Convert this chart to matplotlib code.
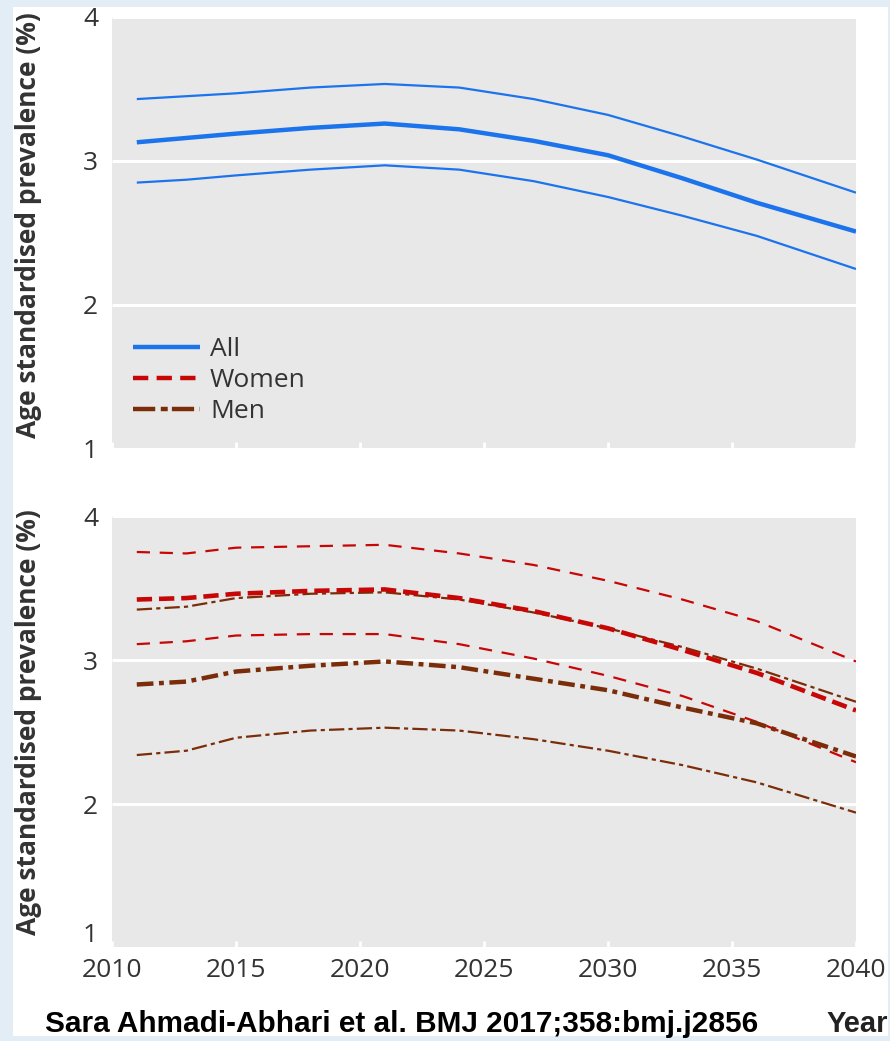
import numpy as np
import matplotlib.pyplot as plt
from matplotlib.patches import Rectangle

plt.rcParams.update({
    'font.family': 'Open Sans',
    'lines.scale_dashes': False,
    'lines.solid_capstyle': 'butt',
    'lines.dash_capstyle': 'butt',
})

# data
years = [2011, 2013, 2015, 2018, 2021, 2024, 2027, 2030, 2033, 2036, 2040]

all_mid = [3.13, 3.16, 3.19, 3.23, 3.26, 3.22, 3.14, 3.04, 2.88, 2.71, 2.51]
all_hi = [3.43, 3.45, 3.47, 3.51, 3.535, 3.51, 3.43, 3.32, 3.17, 3.01, 2.78]
all_lo = [2.85, 2.87, 2.90, 2.94, 2.97, 2.94, 2.86, 2.75, 2.62, 2.48, 2.25]

women_mid = [3.42, 3.43, 3.46, 3.48, 3.49, 3.43, 3.34, 3.22, 3.07, 2.91, 2.65]
women_hi = [3.75, 3.74, 3.78, 3.79, 3.80, 3.74, 3.66, 3.55, 3.42, 3.27, 2.99]
women_lo = [3.11, 3.13, 3.17, 3.18, 3.18, 3.11, 3.01, 2.89, 2.75, 2.57, 2.29]

men_mid = [2.83, 2.85, 2.92, 2.96, 2.99, 2.95, 2.87, 2.79, 2.67, 2.56, 2.33]
men_hi = [3.35, 3.37, 3.43, 3.46, 3.47, 3.42, 3.33, 3.22, 3.09, 2.94, 2.71]
men_lo = [2.34, 2.37, 2.46, 2.51, 2.53, 2.51, 2.45, 2.37, 2.27, 2.15, 1.94]

xticks = [2010, 2015, 2020, 2025, 2030, 2035, 2040]
yticks = [1, 2, 3, 4]

c_all = '#1c74ec'
c_women = '#c70606'
c_men = '#7a2d08'
panel = '#e8e8e8'
txt = '#333333'

W, H = 890, 1041
fig = plt.figure(figsize=(W / 100, H / 100), dpi=100)
fig.patch.set_facecolor('#e3edf6')
fig.patches.append(Rectangle((13 / W, 1 - 1036 / H), 875 / W, 1029 / H,
                             transform=fig.transFigure, facecolor='white',
                             edgecolor='none', zorder=-5))

ax1 = fig.add_axes([112 / W, 1 - 449 / H, 744 / W, 432 / H])
ax2 = fig.add_axes([112 / W, 1 - 948 / H, 744 / W, 432 / H])

for ax in (ax1, ax2):
    ax.set_facecolor(panel)
    ax.set_xlim(2010, 2040)
    ax.set_ylim(1, 4)
    for s in ax.spines.values():
        s.set_visible(False)
    ax.set_yticks(yticks)
    ax.set_xticks(xticks)
    ax.grid(axis='y', color='white', linewidth=2.2)
    ax.set_axisbelow(True)
    ax.tick_params(axis='y', length=0, labelsize=19, labelcolor=txt, pad=10)
    ax.tick_params(axis='x', direction='in', length=5, width=2, color='white',
                   labelsize=19, labelcolor=txt, pad=7)

ax1.tick_params(axis='x', labelbottom=False)
# lift the lowest y label of the bottom panel clear of the year labels
ax2.get_yticklabels()[0].set_verticalalignment('bottom')

# top panel: all
ax1.plot(years, all_hi, color=c_all, lw=1.6)
ax1.plot(years, all_lo, color=c_all, lw=1.6)
ax1.plot(years, all_mid, color=c_all, lw=3.2, label='All')
ax1.plot([], [], color=c_women, lw=3.2, dashes=(11, 6), label='Women')
ax1.plot([], [], color=c_men, lw=3.2, dashes=(16, 4, 5, 3), label='Men')
leg = ax1.legend(loc='lower left', bbox_to_anchor=(0.014, 0.033), frameon=False,
                 fontsize=19, handlelength=2.54, handletextpad=0.38,
                 labelspacing=0.23, borderaxespad=0)
for t in leg.get_texts():
    t.set_color(txt)

# bottom panel: women and men
ax2.plot(years, women_hi, color=c_women, lw=1.6, dashes=(9.5, 7))
ax2.plot(years, women_lo, color=c_women, lw=1.6, dashes=(9.5, 7))
ax2.plot(years, men_hi, color=c_men, lw=1.6, dashes=(11, 3, 3, 3))
ax2.plot(years, men_lo, color=c_men, lw=1.6, dashes=(11, 3, 3, 3))
ax2.plot(years, men_mid, color=c_men, lw=3.2, dashes=(12, 4, 3.5, 4))
ax2.plot(years, women_mid, color=c_women, lw=3.3, dashes=(11, 5))

ylab = 'Age standardised prevalence (%)'
fig.text(29 / W, 1 - 225 / H, ylab, rotation=90, ha='center', va='center',
         fontsize=19, fontweight='bold', color=txt)
fig.text(29 / W, 1 - 722 / H, ylab, rotation=90, ha='center', va='center',
         fontsize=19, fontweight='bold', color=txt)

fig.text(45 / W, 1 - 1024 / H, 'Sara Ahmadi-Abhari et al. BMJ 2017;358:bmj.j2856',
         ha='left', va='center', fontsize=21.4, fontweight='bold',
         family='Liberation Sans', color='black')
fig.text(888 / W, 1 - 1024 / H, 'Year', ha='right', va='center', fontsize=21,
         fontweight='bold', family='Liberation Sans', color='#222222')

fig.savefig('out.png', dpi=100, facecolor=fig.get_facecolor())
